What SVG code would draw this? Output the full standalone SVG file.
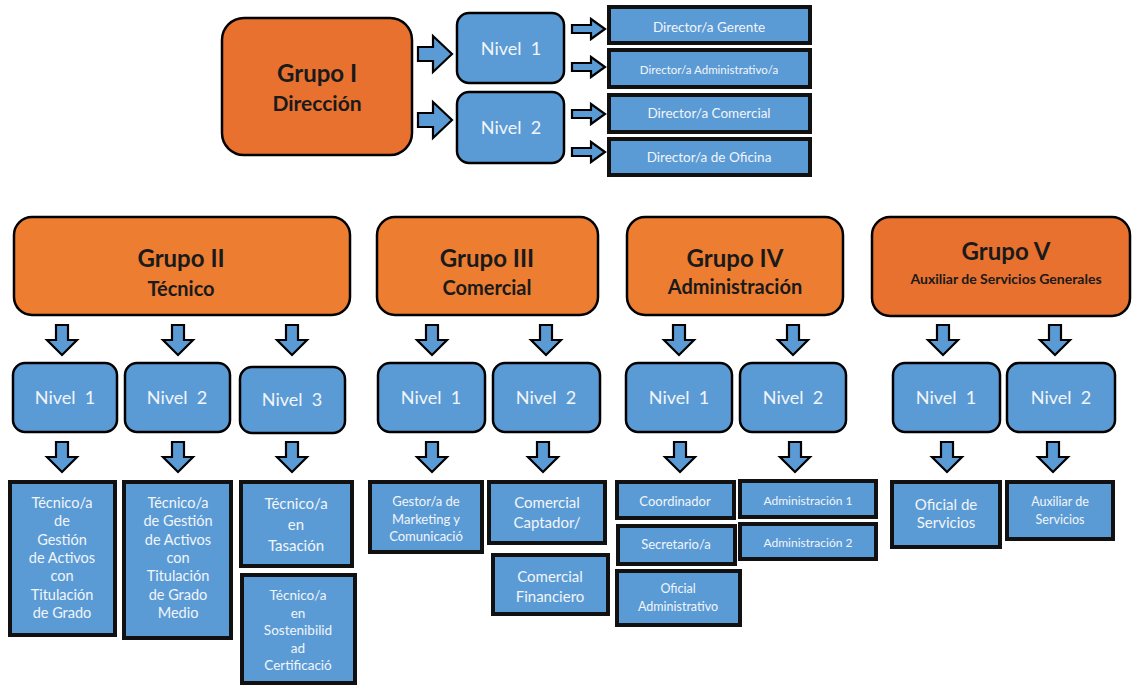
<svg xmlns="http://www.w3.org/2000/svg" width="1132" height="686" viewBox="0 0 1132 686">
<style>
.grp{stroke:#000;stroke-width:2.5}
.o1{fill:#E8712F}
.o2{fill:#ED7D31}
.niv{fill:#5B9BD5;stroke:#000;stroke-width:2.5}
.leaf{fill:#5B9BD5;stroke:#111;stroke-width:4}
.arr{fill:#5B9BD5;stroke:#000;stroke-width:2.2;stroke-linejoin:miter}
text{font-family:Lato,"Liberation Sans",sans-serif;text-anchor:middle}
.gt{font-weight:bold;fill:#1a1a1a;font-size:24px}
.gs{font-weight:bold;fill:#1a1a1a;font-size:20px}
.nt{fill:#F2F5FA;font-size:18px;white-space:pre}
.lt{fill:#F2F5FA}
</style>
<defs>
<path id="ad" d="M-6,0 H6 V15 H15 L0,30 L-15,15 H-6 Z"/>
<path id="ar" d="M0,-7 H15 V-18 L34,0 L15,18 V7 H0 Z"/>
<path id="as" d="M0,-4 H19 V-10 L33,0 L19,10 V4 H0 Z"/>
</defs>

<g id="connectors">
<use href="#ar" class="arr" x="418" y="54"/>
<use href="#ar" class="arr" x="418" y="120"/>
<use href="#as" class="arr" x="572" y="29"/>
<use href="#as" class="arr" x="572" y="67"/>
<use href="#as" class="arr" x="572" y="114"/>
<use href="#as" class="arr" x="572" y="152"/>
<use href="#ad" class="arr" x="62" y="325"/>
<use href="#ad" class="arr" x="178" y="325"/>
<use href="#ad" class="arr" x="292" y="325"/>
<use href="#ad" class="arr" x="432" y="325"/>
<use href="#ad" class="arr" x="546" y="325"/>
<use href="#ad" class="arr" x="679" y="325"/>
<use href="#ad" class="arr" x="793" y="325"/>
<use href="#ad" class="arr" x="943" y="325"/>
<use href="#ad" class="arr" x="1055" y="325"/>
<use href="#ad" class="arr" x="62" y="442"/>
<use href="#ad" class="arr" x="178" y="442"/>
<use href="#ad" class="arr" x="292" y="442"/>
<use href="#ad" class="arr" x="432" y="442"/>
<use href="#ad" class="arr" x="543" y="442"/>
<use href="#ad" class="arr" x="680" y="442"/>
<use href="#ad" class="arr" x="795" y="442"/>
<use href="#ad" class="arr" x="947" y="442"/>
<use href="#ad" class="arr" x="1053" y="442"/>
</g>

<g id="grupo1">
<rect class="grp o1" x="222" y="18" width="190" height="137" rx="22"/>
<text class="gt" x="317" y="82">Grupo I</text>
<text class="gs" x="317" y="111" style="font-size:21px">Dirección</text>
</g>
<g id="g1n1"><rect class="niv" x="457" y="13" width="107" height="70" rx="12"/><text class="nt" x="511" y="55">Nivel  1</text></g>
<g id="g1n2"><rect class="niv" x="457" y="92" width="107" height="71" rx="12"/><text class="nt" x="511" y="134">Nivel  2</text></g>
<g id="d1"><rect class="leaf" x="609" y="7" width="201" height="36"/><text class="lt" x="709" y="32" style="font-size:13.5px">Director/a Gerente</text></g>
<g id="d2"><rect class="leaf" x="609" y="50" width="201" height="37"/><text class="lt" x="709" y="74" style="font-size:11.5px">Director/a Administrativo/a</text></g>
<g id="d3"><rect class="leaf" x="609" y="95" width="201" height="37"/><text class="lt" x="709" y="118" style="font-size:13.5px">Director/a Comercial</text></g>
<g id="d4"><rect class="leaf" x="609" y="139" width="201" height="36"/><text class="lt" x="709" y="162" style="font-size:13.5px">Director/a de Oficina</text></g>

<g id="grupo2">
<rect class="grp o2" x="14" y="217" width="336" height="98" rx="18"/>
<text class="gt" x="181" y="267">Grupo II</text>
<text class="gs" x="181" y="296">Técnico</text>
</g>
<g id="grupo3">
<rect class="grp o2" x="377" y="217" width="221" height="98" rx="18"/>
<text class="gt" x="487" y="267">Grupo III</text>
<text class="gs" x="487" y="295">Comercial</text>
</g>
<g id="grupo4">
<rect class="grp o2" x="627" y="217" width="216" height="98" rx="18"/>
<text class="gt" x="735" y="267">Grupo IV</text>
<text class="gs" x="735" y="294">Administración</text>
</g>
<g id="grupo5">
<rect class="grp o1" x="872" y="217" width="258" height="99" rx="18"/>
<text class="gt" x="1006" y="260">Grupo V</text>
<text class="gs" x="1006" y="284" style="font-size:14px">Auxiliar de Servicios Generales</text>
</g>

<g id="g2n1"><rect class="niv" x="13" y="363" width="104" height="69" rx="12"/><text class="nt" x="65" y="404">Nivel  1</text></g>
<g id="g2n2"><rect class="niv" x="125" y="363" width="105" height="69" rx="12"/><text class="nt" x="177" y="404">Nivel  2</text></g>
<g id="g2n3"><rect class="niv" x="240" y="367" width="105" height="66" rx="12"/><text class="nt" x="292" y="406">Nivel  3</text></g>
<g id="g3n1"><rect class="niv" x="378" y="363" width="107" height="69" rx="12"/><text class="nt" x="431" y="404">Nivel  1</text></g>
<g id="g3n2"><rect class="niv" x="493" y="363" width="107" height="69" rx="12"/><text class="nt" x="546" y="404">Nivel  2</text></g>
<g id="g4n1"><rect class="niv" x="626" y="363" width="106" height="69" rx="12"/><text class="nt" x="679" y="404">Nivel  1</text></g>
<g id="g4n2"><rect class="niv" x="740" y="363" width="106" height="69" rx="12"/><text class="nt" x="793" y="404">Nivel  2</text></g>
<g id="g5n1"><rect class="niv" x="893" y="363" width="107" height="69" rx="12"/><text class="nt" x="946" y="404">Nivel  1</text></g>
<g id="g5n2"><rect class="niv" x="1007" y="363" width="108" height="69" rx="12"/><text class="nt" x="1061" y="404">Nivel  2</text></g>

<g id="l1"><rect class="leaf" x="10" y="482" width="105" height="153"/>
<text class="lt" style="font-size:14.5px"><tspan x="62" y="508">Técnico/a</tspan><tspan x="62" y="526">de</tspan><tspan x="62" y="545">Gestión</tspan><tspan x="62" y="563">de Activos</tspan><tspan x="62" y="581">con</tspan><tspan x="62" y="600">Titulación</tspan><tspan x="62" y="618">de Grado</tspan></text></g>
<g id="l2"><rect class="leaf" x="124" y="482" width="107" height="156"/>
<text class="lt" style="font-size:14.5px"><tspan x="178" y="508">Técnico/a</tspan><tspan x="178" y="526">de Gestión</tspan><tspan x="178" y="545">de Activos</tspan><tspan x="178" y="563">con</tspan><tspan x="178" y="581">Titulación</tspan><tspan x="178" y="600">de Grado</tspan><tspan x="178" y="618">Medio</tspan></text></g>
<g id="l3"><rect class="leaf" x="241" y="482" width="111" height="84"/>
<text class="lt" style="font-size:15px"><tspan x="296" y="509">Técnico/a</tspan><tspan x="296" y="530">en</tspan><tspan x="296" y="551">Tasación</tspan></text></g>
<g id="l4"><rect class="leaf" x="242" y="575" width="113" height="108"/>
<text class="lt" style="font-size:13.5px"><tspan x="298" y="600">Técnico/a</tspan><tspan x="298" y="618">en</tspan><tspan x="298" y="635">Sostenibilid</tspan><tspan x="298" y="653">ad</tspan><tspan x="298" y="670">Certificació</tspan></text></g>
<g id="l5"><rect class="leaf" x="370" y="482" width="112" height="70"/>
<text class="lt" style="font-size:13px"><tspan x="426" y="506">Gestor/a de</tspan><tspan x="426" y="524">Marketing y</tspan><tspan x="426" y="541">Comunicació</tspan></text></g>
<g id="l6"><rect class="leaf" x="489" y="482" width="116" height="61"/>
<text class="lt" style="font-size:15px"><tspan x="547" y="508">Comercial</tspan><tspan x="547" y="528">Captador/</tspan></text></g>
<g id="l7"><rect class="leaf" x="493" y="555" width="115" height="59"/>
<text class="lt" style="font-size:15px"><tspan x="550" y="582">Comercial</tspan><tspan x="550" y="602">Financiero</tspan></text></g>
<g id="l8"><rect class="leaf" x="617" y="482" width="117" height="36"/><text class="lt" x="675" y="506" style="font-size:13px">Coordinador</text></g>
<g id="l9"><rect class="leaf" x="618" y="526" width="117" height="38"/><text class="lt" x="676" y="549" style="font-size:13px">Secretario/a</text></g>
<g id="l10"><rect class="leaf" x="617" y="571" width="123" height="54"/>
<text class="lt" style="font-size:12.5px"><tspan x="678" y="593">Oficial</tspan><tspan x="678" y="611">Administrativo</tspan></text></g>
<g id="l11"><rect class="leaf" x="740" y="481" width="136" height="36"/><text class="lt" x="808" y="505" style="font-size:12px">Administración 1</text></g>
<g id="l12"><rect class="leaf" x="740" y="524" width="136" height="35"/><text class="lt" x="808" y="547" style="font-size:12px">Administración 2</text></g>
<g id="l13"><rect class="leaf" x="892" y="482" width="108" height="65"/>
<text class="lt" style="font-size:15px"><tspan x="946" y="510">Oficial de</tspan><tspan x="946" y="528">Servicios</tspan></text></g>
<g id="l14"><rect class="leaf" x="1007" y="482" width="106" height="57"/>
<text class="lt" style="font-size:12.5px"><tspan x="1060" y="506">Auxiliar de</tspan><tspan x="1060" y="524">Servicios</tspan></text></g>
</svg>
